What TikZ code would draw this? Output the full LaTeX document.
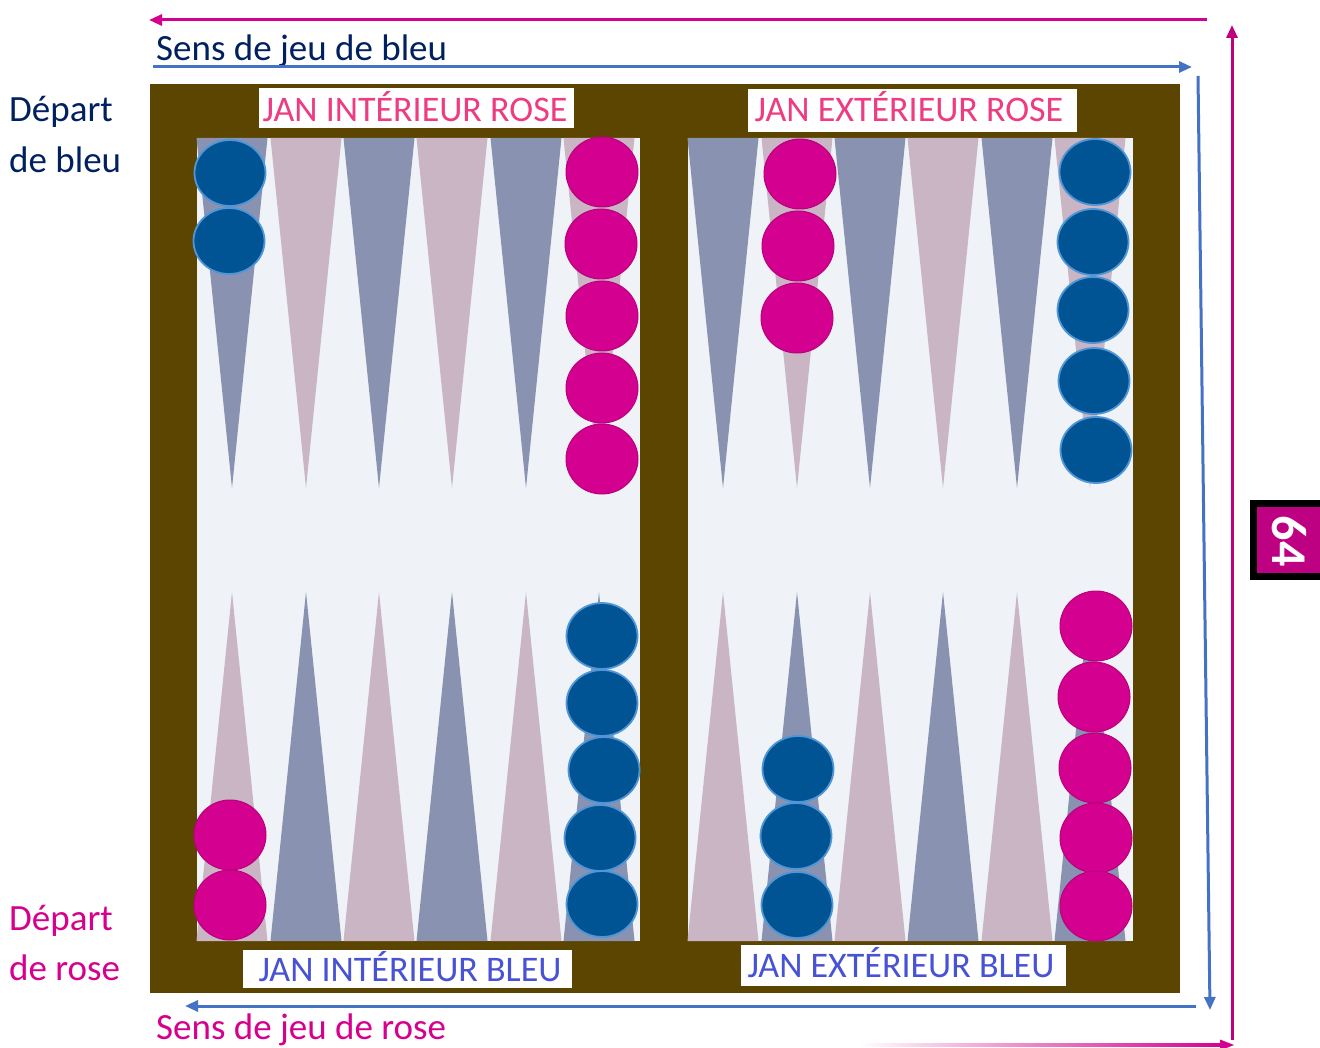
\documentclass[tikz,border=0pt]{standalone}
\usepackage{fontspec}
\setmainfont{Carlito}
\usetikzlibrary{shapes.geometric,arrows.meta}
\definecolor{brownb}{RGB}{92,69,0}
\definecolor{boardbg}{RGB}{239,243,247}
\definecolor{ptblue}{RGB}{137,146,177}
\definecolor{ptpink}{RGB}{201,181,195}
\definecolor{chkblue}{RGB}{0,84,147}
\definecolor{chkblueline}{RGB}{80,150,215}
\definecolor{chkpink}{RGB}{212,0,143}
\definecolor{chkpinkline}{RGB}{185,0,125}
\definecolor{navy}{RGB}{0,32,96}
\definecolor{rosetxt}{RGB}{214,0,140}
\definecolor{lblpink}{RGB}{238,60,130}
\definecolor{lblblue}{RGB}{72,82,212}
\definecolor{arrpink}{RGB}{214,0,143}
\definecolor{arrpinkv}{RGB}{192,0,127}
\definecolor{arrblue}{RGB}{68,114,196}
\definecolor{boxmag}{RGB}{190,0,130}
\tikzset{
  bchk/.style={ellipse, fill=chkblue, draw=chkblueline, line width=1.8pt, minimum width=71pt, minimum height=66pt, inner sep=0pt},
  pchk/.style={ellipse, fill=chkpink, draw=chkpinkline, line width=1pt, minimum width=72pt, minimum height=70pt, inner sep=0pt},
  bigtxt/.style={anchor=base west, inner sep=0pt, font=\fontsize{37}{44}\selectfont},
  lbltxt/.style={anchor=base, inner sep=0pt, font=\fontsize{36}{40}\selectfont},
  lblbox/.style={fill=white, inner sep=0pt},
  arrtip/.style={-{Triangle[length=13pt,width=11pt]}},
  pinkline/.style={draw=arrpink, line width=3pt, arrtip},
  blueline/.style={draw=arrblue, line width=3pt, arrtip},
}
\begin{document}
\begin{tikzpicture}[x=1pt,y=-1pt]
\useasboundingbox (0,0) rectangle (1320,1048);
% board frame
\fill[brownb] (150,84) rectangle (1180,993);
\fill[boardbg] (197,138) rectangle (640,941);
\fill[boardbg] (688,138) rectangle (1133,941);
% top-left points
\foreach \tx/\c in {232/ptblue,306/ptpink,379/ptblue,452/ptpink,526/ptblue,599/ptpink}
  {\fill[\c] ({\tx-35.5},138) -- ({\tx+35.5},138) -- (\tx,488) -- cycle;}
% top-right points
\foreach \tx/\c in {723/ptblue,797/ptpink,870/ptblue,943/ptpink,1017/ptblue,1090/ptpink}
  {\fill[\c] ({\tx-35.5},138) -- ({\tx+35.5},138) -- (\tx,488) -- cycle;}
% bottom-left points
\foreach \tx/\c in {232/ptpink,306/ptblue,379/ptpink,452/ptblue,526/ptpink,599/ptblue}
  {\fill[\c] ({\tx-35.5},941) -- ({\tx+35.5},941) -- (\tx,592) -- cycle;}
% bottom-right points
\foreach \tx/\c in {723/ptpink,797/ptblue,870/ptpink,943/ptblue,1017/ptpink,1090/ptblue}
  {\fill[\c] ({\tx-35.5},941) -- ({\tx+35.5},941) -- (\tx,592) -- cycle;}
% checkers top-left
\node[bchk] (tlb1) at (230,173) {};
\node[bchk] (tlb2) at (229,241) {};
\node[pchk] (tlp1) at (602,172) {};
\node[pchk] (tlp2) at (601,244) {};
\node[pchk] (tlp3) at (602,316) {};
\node[pchk] (tlp4) at (602,388) {};
\node[pchk] (tlp5) at (602,459) {};
% checkers top-right
\node[pchk] (trp1) at (800,174) {};
\node[pchk] (trp2) at (798,246) {};
\node[pchk] (trp3) at (797,318) {};
\node[bchk] (trb1) at (1095,172) {};
\node[bchk] (trb2) at (1093,242) {};
\node[bchk] (trb3) at (1093,310) {};
\node[bchk] (trb4) at (1094,381) {};
\node[bchk] (trb5) at (1096,450) {};
% checkers bottom-left
\node[pchk] (blp1) at (230,835) {};
\node[pchk] (blp2) at (230,905) {};
\node[bchk] (blb1) at (602,636) {};
\node[bchk] (blb2) at (602,703) {};
\node[bchk] (blb3) at (604,770) {};
\node[bchk] (blb4) at (600,838) {};
\node[bchk] (blb5) at (602,904) {};
% checkers bottom-right
\node[bchk] (brb1) at (798,769) {};
\node[bchk] (brb2) at (796,836) {};
\node[bchk] (brb3) at (797,905) {};
\node[pchk] (brp1) at (1096,626) {};
\node[pchk] (brp2) at (1094,697) {};
\node[pchk] (brp3) at (1095,768) {};
\node[pchk] (brp4) at (1096,838) {};
\node[pchk] (brp5) at (1096,906) {};
% quarter labels
\node[lblbox, minimum width=315pt, minimum height=40pt] (jirbox) at (416.5,108) {};
\node[lbltxt, text=lblpink] (jir) at (415,121.5) {JAN INTÉRIEUR ROSE};
\node[lblbox, minimum width=329pt, minimum height=43pt] (jerbox) at (912.5,110.5) {};
\node[lbltxt, text=lblpink] (jer) at (909,122) {JAN EXTÉRIEUR ROSE};
\node[lblbox, minimum width=329pt, minimum height=38pt] (jibbox) at (407.5,969) {};
\node[lbltxt, text=lblblue] (jib) at (410,981) {JAN INTÉRIEUR BLEU};
\node[lblbox, minimum width=325pt, minimum height=41pt] (jebbox) at (903.5,965.5) {};
\node[lbltxt, text=lblblue] (jeb) at (901,977.5) {JAN EXTÉRIEUR BLEU};
% side texts
\node[bigtxt, text=navy] (sensbleu) at (156,61) {Sens de jeu de bleu};
\node[bigtxt, text=navy] (depb1) at (9,122) {Départ};
\node[bigtxt, text=navy] (depb2) at (9,173) {de bleu};
\node[bigtxt, text=rosetxt] (depr1) at (9,930) {Départ};
\node[bigtxt, text=rosetxt] (depr2) at (9,980) {de rose};
\node[bigtxt, text=rosetxt] (sensrose) at (156,1039) {Sens de jeu de rose};
% arrows
\coordinate (pt1) at (1207,20);
\coordinate (pt2) at (149,20);
\draw[pinkline] (pt1) -- (pt2);
\coordinate (bt1) at (153,67);
\coordinate (bt2) at (1192,67);
\draw[blueline] (bt1) -- (bt2);
\coordinate (bv1) at (1198,76);
\coordinate (bv2) at (1210,1010);
\draw[blueline] (bv1) -- (bv2);
\coordinate (bb1) at (1196,1006);
\coordinate (bb2) at (185,1006);
\draw[blueline] (bb1) -- (bb2);
\coordinate (pv1) at (1232,1040);
\coordinate (pv2) at (1232,25);
\draw[pinkline, draw=arrpinkv] (pv1) -- (pv2);
\shade[left color=white, right color=arrpink] (858,1043.5) rectangle (1222,1046.5);
\fill[arrpink] (1234,1045) -- (1220,1039.5) -- (1220,1050.5) -- cycle;
% 64 box
\fill[black] (1250,500) rectangle (1330,580);
\fill[boxmag] (1257,507) rectangle (1330,573);
\node[rotate=-90, text=white, inner sep=0pt, font=\bfseries\fontsize{50}{50}\selectfont] (n64) at (1289,541) {64};
\end{tikzpicture}
\end{document}
